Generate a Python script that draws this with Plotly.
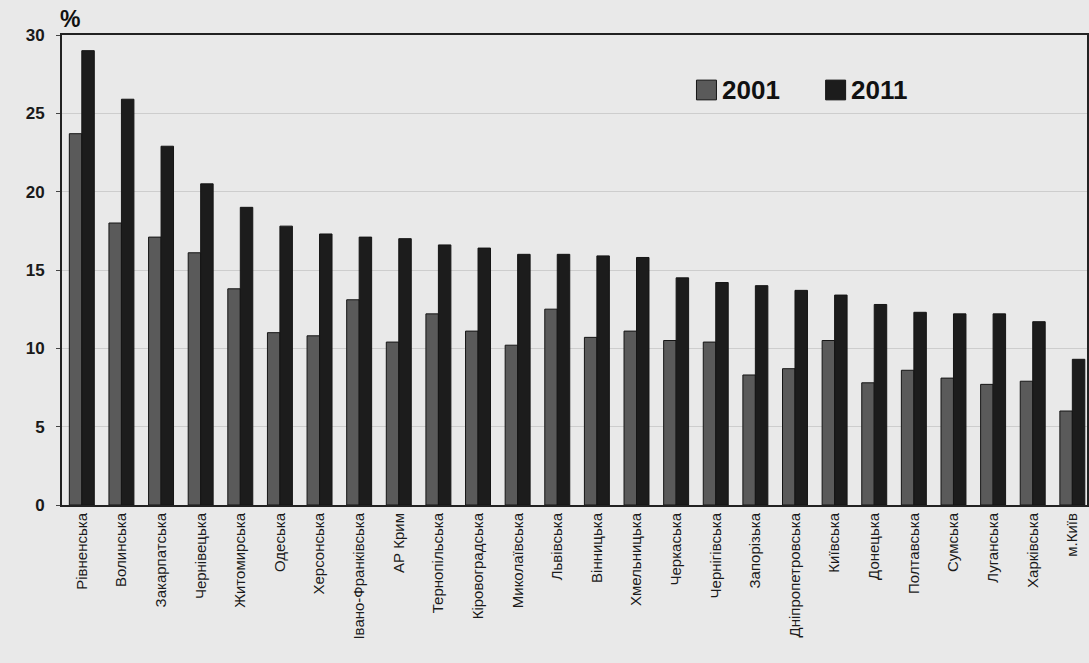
import plotly.graph_objects as go

regions = ["Рівненська", "Волинська", "Закарпатська", "Чернівецька", "Житомирська",
           "Одеська", "Херсонська", "Івано-Франківська", "АР Крим", "Тернопільська",
           "Кіровоградська", "Миколаївська", "Львівська", "Вінницька", "Хмельницька",
           "Черкаська", "Чернігівська", "Запорізька", "Дніпропетровська", "Київська",
           "Донецька", "Полтавська", "Сумська", "Луганська", "Харківська", "м.Київ"]
v2001 = [23.7, 18.0, 17.1, 16.1, 13.8, 11.0, 10.8, 13.1, 10.4, 12.2,
         11.1, 10.2, 12.5, 10.7, 11.1, 10.5, 10.4, 8.3, 8.7, 10.5,
         7.8, 8.6, 8.1, 7.7, 7.9, 6.0]
v2011 = [29.0, 25.9, 22.9, 20.5, 19.0, 17.8, 17.3, 17.1, 17.0, 16.6,
         16.4, 16.0, 16.0, 15.9, 15.8, 14.5, 14.2, 14.0, 13.7, 13.4,
         12.8, 12.3, 12.2, 12.2, 11.7, 9.3]
series_names = ["2001", "2011"]
series_colors = ["#5a5a5a", "#1c1c1c"]
y_ticks = [0, 5, 10, 15, 20, 25, 30]

fig = go.Figure()
for name, vals, col in zip(series_names, [v2001, v2011], series_colors):
    fig.add_trace(go.Bar(x=regions, y=vals, name=name,
                         marker=dict(color=col, line=dict(color="#151515", width=1))))

fig.update_layout(
    width=1089, height=663,
    margin=dict(l=62, r=0, t=35, b=158),
    paper_bgcolor="#e9e9e9", plot_bgcolor="#e9e9e9",
    barmode="group", bargap=0.37, bargroupgap=0.0,
    font=dict(family="Liberation Sans, Arial, sans-serif", color="#1a1a1a"),
    showlegend=False,
)
fig.update_xaxes(
    tickangle=-90, showline=True, linecolor="#222", linewidth=2, mirror=True,
    tickfont=dict(size=15, family="Liberation Sans, Arial", color="#1a1a1a"),
    ticks="", showgrid=False, range=[-0.5, 25.37],
)
fig.update_yaxes(
    range=[0, 30], tickvals=y_ticks, ticktext=[str(t) for t in y_ticks],
    tickfont=dict(size=17, family="Liberation Sans, Arial", color="#1a1a1a", weight="bold"),
    showline=True, linecolor="#222", linewidth=2, mirror=True,
    showgrid=True, gridcolor="#cdcdcd", gridwidth=1, ticks="outside", ticklen=4,
    tickcolor="#444", zeroline=False, ticklabelstandoff=8,
)
fig.add_annotation(text="<b>%</b>", xref="paper", yref="paper", x=0.0, y=1.0,
                   xshift=-4, yshift=1, xanchor="left", yanchor="bottom", showarrow=False,
                   font=dict(size=23, family="Liberation Sans, Arial", color="#111"))

# custom legend (larger squares as in the reference)
legend_x = [0.619, 0.745]
for name, col, lx in zip(series_names, series_colors, legend_x):
    fig.add_shape(type="rect", xref="paper", yref="paper", x0=lx, x1=lx + 0.0195,
                  y0=0.862, y1=0.904, fillcolor=col, line=dict(color="#151515", width=1))
    fig.add_annotation(text=name, xref="paper", yref="paper", x=lx + 0.0225, y=0.883,
                       xanchor="left", yanchor="middle", showarrow=False,
                       font=dict(size=26, family="Liberation Sans, Arial", color="#111", weight="bold"))

fig.write_html("out.html", config={"displayModeBar": False},
               post_script="document.body.style.margin='0';document.body.style.background='#e9e9e9';")
